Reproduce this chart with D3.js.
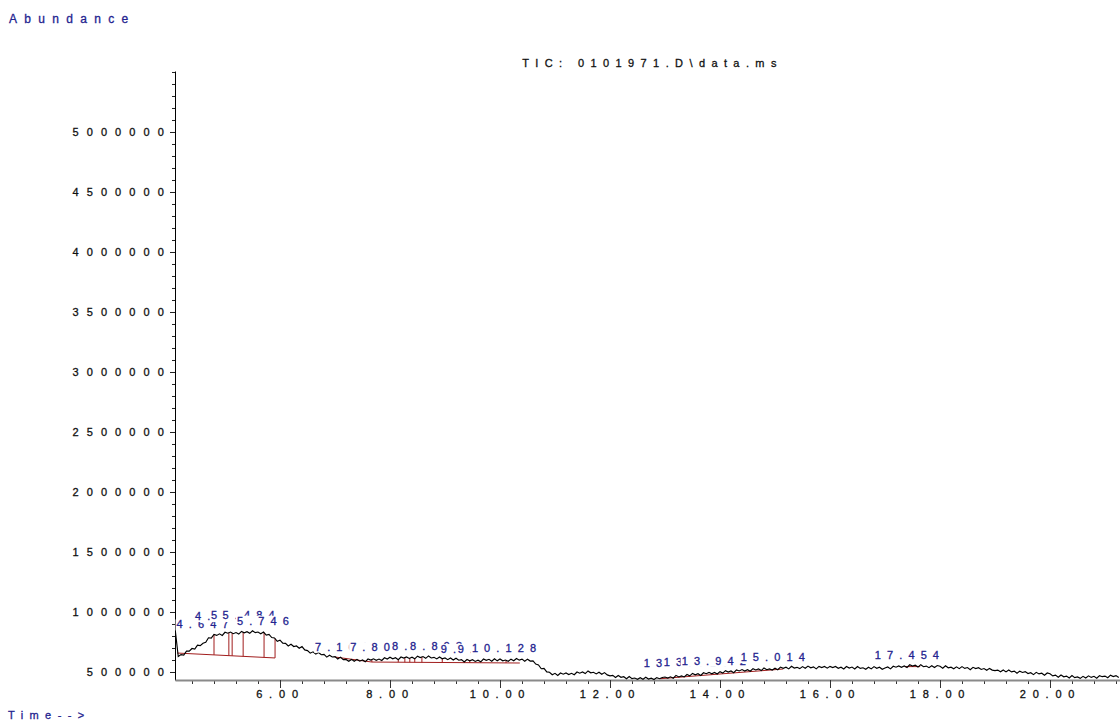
<!DOCTYPE html>
<html>
<head>
<meta charset="utf-8">
<script src="https://cdn.jsdelivr.net/npm/d3@7"></script>
<style>
  html, body { margin: 0; padding: 0; background: #fff; }
  svg { display: block; font-family: "Liberation Sans", Arial, sans-serif; }
  svg text { stroke: currentColor; stroke-width: 0.3px; }
</style>
</head>
<body>
<svg id="chart" width="1120" height="722"></svg>
<script>
// Total ion chromatogram, one abundance reading per 0.05 min scan starting at 4.10 min
const scanStart = 4.10;
const scanStep = 0.05;
const abundance = [
  830e3,629e3,645e3,641e3,674e3,674e3,696e3,691e3,724e3,720e3,740e3,748e3,785e3,783e3,813e3,805e3,818e3,805e3,
  831e3,823e3,833e3,819e3,829e3,816e3,838e3,827e3,836e3,822e3,844e3,828e3,833e3,819e3,833e3,808e3,813e3,787e3,784e3,756e3,
  765e3,740e3,739e3,717e3,731e3,712e3,717e3,698e3,712e3,684e3,678e3,657e3,668e3,649e3,663e3,644e3,647e3,624e3,640e3,625e3,
  628e3,608e3,624e3,603e3,605e3,590e3,605e3,589e3,605e3,590e3,600e3,585e3,608e3,599e3,610e3,598e3,608e3,596e3,619e3,608e3,
  623e3,610e3,619e3,603e3,625e3,616e3,626e3,613e3,623e3,610e3,632e3,620e3,629e3,614e3,634e3,617e3,622e3,609e3,625e3,610e3,
  617e3,603e3,617e3,600e3,615e3,598e3,603e3,584e3,604e3,593e3,602e3,588e3,598e3,585e3,608e3,597e3,606e3,590e3,610e3,593e3,
  609e3,593e3,600e3,589e3,607e3,594e3,613e3,599e3,607e3,589e3,607e3,591e3,592e3,566e3,559e3,527e3,530e3,501e3,498e3,477e3,
  489e3,471e3,492e3,482e3,492e3,479e3,489e3,477e3,500e3,490e3,500e3,487e3,509e3,493e3,498e3,484e3,498e3,481e3,495e3,476e3,
  468e3,472e3,454e3,471e3,456e3,461e3,444e3,463e3,445e3,450e3,439e3,453e3,440e3,456e3,441e3,449e3,437e3,453e3,444e3,454e3,
  458e3,449e3,460e3,448e3,472e3,459e3,468e3,459e3,479e3,468e3,488e3,476e3,486e3,471e3,494e3,486e3,497e3,485e3,496e3,483e3,
  503e3,491e3,511e3,499e3,509e3,494e3,517e3,509e3,520e3,508e3,519e3,506e3,528e3,517e3,526e3,512e3,534e3,519e3,526e3,516e3,
  531e3,519e3,541e3,531e3,540e3,526e3,548e3,533e3,539e3,528e3,545e3,531e3,549e3,535e3,543e3,526e3,547e3,537e3,546e3,532e3,
  547e3,537e3,546e3,531e3,540e3,525e3,546e3,533e3,541e3,525e3,546e3,530e3,535e3,523e3,540e3,526e3,545e3,531e3,540e3,523e3,
  533e3,542e3,526e3,548e3,540e3,551e3,539e3,550e3,538e3,560e3,549e3,557e3,541e3,561e3,544e3,549e3,536e3,552e3,537e3,554e3,
  548e3,532e3,552e3,535e3,540e3,527e3,543e3,528e3,545e3,530e3,537e3,519e3,539e3,528e3,536e3,521e3,529e3,514e3,530e3,516e3,
  512e3,516e3,502e3,517e3,501e3,517e3,501e3,507e3,490e3,507e3,496e3,503e3,487e3,494e3,478e3,497e3,484e3,490e3,473e3,492e3,
  485e3,468e3,474e3,457e3,475e3,460e3,466e3,450e3,470e3,453e3,459e3,447e3,464e3,450e3,468e3,455e3,464e3,448e3,470e3,461e3,
  466e3,452e3,474e3,462e3,470e3,454e3
];

// Integration events: boundaries (drop lines) and baseline knots for each integrated region
const dropTimes = [
  [4.80, 5.07, 5.13, 5.33, 5.71, 5.91],
  [7.67, 8.15, 8.27, 8.36, 8.45, 8.58, 8.95, 9.45, 10.11],
  [],
  []
];
const baseTimes  = [[4.13, 5.91], [7.00, 7.67, 10.36], [12.91, 15.15], [17.36, 17.64]];
const baseValues = [[658e3, 617e3], [625e3, 583e3, 575e3], [444e3, 525e3], [545e3, 545e3]];

// Retention time labels of the integrated peaks (min)
const peakRT = ["4.647", "4.982", "5.272", "5.484", "5.746",
                "7.164", "7.803", "8.564", "8.893", "9.452", "9.761", "10.128",
                "13.254", "13.618", "13.942", "15.014", "17.454"];

// Tick values
const yMajorTicks = [500000, 1000000, 1500000, 2000000, 2500000, 3000000, 3500000, 4000000, 4500000, 5000000];
const xMajorTicks = [6, 8, 10, 12, 14, 16, 18, 20];

const svg = d3.select("#chart");
const plotL = 175, plotR = 1120, plotT = 71, plotB = 680;

const x = d3.scaleLinear().domain([4.0909, 21.2727]).range([plotL, plotR]);
const y = d3.scaleLinear().domain([433333, 5508333]).range([plotB, plotT]);

const series = abundance.map((v, i) => ({ t: scanStart + i * scanStep, v }));
const signalAt = t => {
  const i = Math.min(series.length - 2, Math.max(0, Math.floor((t - scanStart) / scanStep)));
  const a = series[i], b = series[i + 1];
  const f = (t - a.t) / (b.t - a.t);
  return a.v + (b.v - a.v) * f;
};

const blue = "#23238f";
const ink = "#111";
const spaced = (sel, size, ls) => sel.style("font-size", size + "px").style("letter-spacing", ls + "px");

// Header texts
spaced(svg.append("text").attr("x", 9).attr("y", 23).attr("fill", blue).style("color", blue)
  .text("Abundance"), 12, 7.3);
spaced(svg.append("text").attr("x", 8).attr("y", 719).attr("fill", blue).style("color", blue)
  .text("Time-->"), 11, 6.4);
spaced(svg.append("text").attr("x", (plotL + plotR) / 2 + 5).attr("y", 67).attr("text-anchor", "middle")
  .attr("fill", ink).style("color", ink).text("TIC: 0101971.D\\data.ms"), 11, 6.4);

// Y axis with minor ticks every 100000
const yMinor = d3.range(500000, 5500001, 100000).filter(v => !yMajorTicks.includes(v));
svg.append("g").attr("transform", `translate(${plotL},0)`)
  .call(d3.axisLeft(y).tickValues(yMinor).tickSize(3).tickFormat(""))
  .call(g => g.select(".domain").remove())
  .call(g => g.selectAll("line").attr("stroke", "#222"));
const yAxis = svg.append("g").attr("transform", `translate(${plotL},0)`)
  .call(d3.axisLeft(y).tickValues(yMajorTicks).tickSize(5).tickPadding(-2).tickSizeOuter(0).tickFormat(d3.format("d")));
yAxis.select(".domain").attr("stroke", "#000");
yAxis.selectAll("line").attr("stroke", "#222");
yAxis.selectAll("text").attr("fill", ink).style("color", ink).attr("dy", "0.36em")
  .style("font-family", "'Liberation Sans', Arial, sans-serif");
spaced(yAxis.selectAll("text"), 11, 8.1);

// X axis with minor ticks every 0.4 min
const xMinor = d3.range(4.4, 21.3, 0.4).filter(t => Math.abs(t - Math.round(t / 2) * 2) > 0.01);
svg.append("g").attr("transform", `translate(0,${plotB})`)
  .call(d3.axisBottom(x).tickValues(xMinor).tickSize(4).tickFormat(""))
  .call(g => g.select(".domain").remove())
  .call(g => g.selectAll("line").attr("stroke", "#333"));
const xAxis = svg.append("g").attr("transform", `translate(0,${plotB})`)
  .call(d3.axisBottom(x).tickValues(xMajorTicks).tickSize(8).tickPadding(2).tickSizeOuter(0).tickFormat(d3.format(".2f")));
xAxis.select(".domain").attr("stroke", "#8a8a8a").attr("stroke-width", 2);
xAxis.selectAll("line").attr("stroke", "#333");
xAxis.selectAll("text").attr("fill", ink).style("color", ink)
  .style("font-family", "'Liberation Sans', Arial, sans-serif");
spaced(xAxis.selectAll("text"), 11, 6.8);

// Integration baselines and drop lines
const red = "#a11d1d";
const integ = svg.append("g").attr("stroke", red).attr("stroke-width", 1).attr("fill", "none");
baseTimes.forEach((bt, k) => {
  const knots = bt.map((t, j) => ({ t, v: baseValues[k][j] }));
  integ.append("path").datum(knots).attr("d", d3.line().x(d => x(d.t)).y(d => y(d.v)));
  const baseAt = d3.scaleLinear().domain(bt).range(baseValues[k]);
  dropTimes[k].forEach(t => {
    integ.append("line").attr("x1", x(t)).attr("x2", x(t))
      .attr("y1", y(baseAt(t))).attr("y2", y(signalAt(t)));
  });
});

// Chromatogram trace
const line = d3.line().x(d => x(d.t)).y(d => y(d.v));
svg.append("path").datum(series).attr("d", line)
  .attr("fill", "none").attr("stroke", "#000").attr("stroke-width", 1.15);

// Retention time labels above the apex region; each sits on an opaque
// background, so a later label masks the parts of earlier ones it overlaps
const raised = new Set(["4.982", "5.272", "5.484"]);
const lbl = svg.append("g");
peakRT.forEach(rt => {
  const t = +rt;
  const near = series.filter(d => Math.abs(d.t - t) <= 0.25);
  const apexY = y(d3.max(near, d => d.v));
  const base = apexY - 6 - (raised.has(rt) ? 6 : 0);
  const g = lbl.append("g");
  const txt = g.append("text").attr("x", x(t)).attr("y", base).attr("text-anchor", "middle")
    .attr("fill", blue).style("color", blue).text(rt);
  spaced(txt, 11, 6.1);
  const bb = txt.node().getBBox();
  g.insert("rect", "text").attr("x", bb.x - 1).attr("y", bb.y + 1).attr("width", bb.width - 4)
    .attr("height", bb.height - 1).attr("fill", "#fff");
});
</script>
</body>
</html>
